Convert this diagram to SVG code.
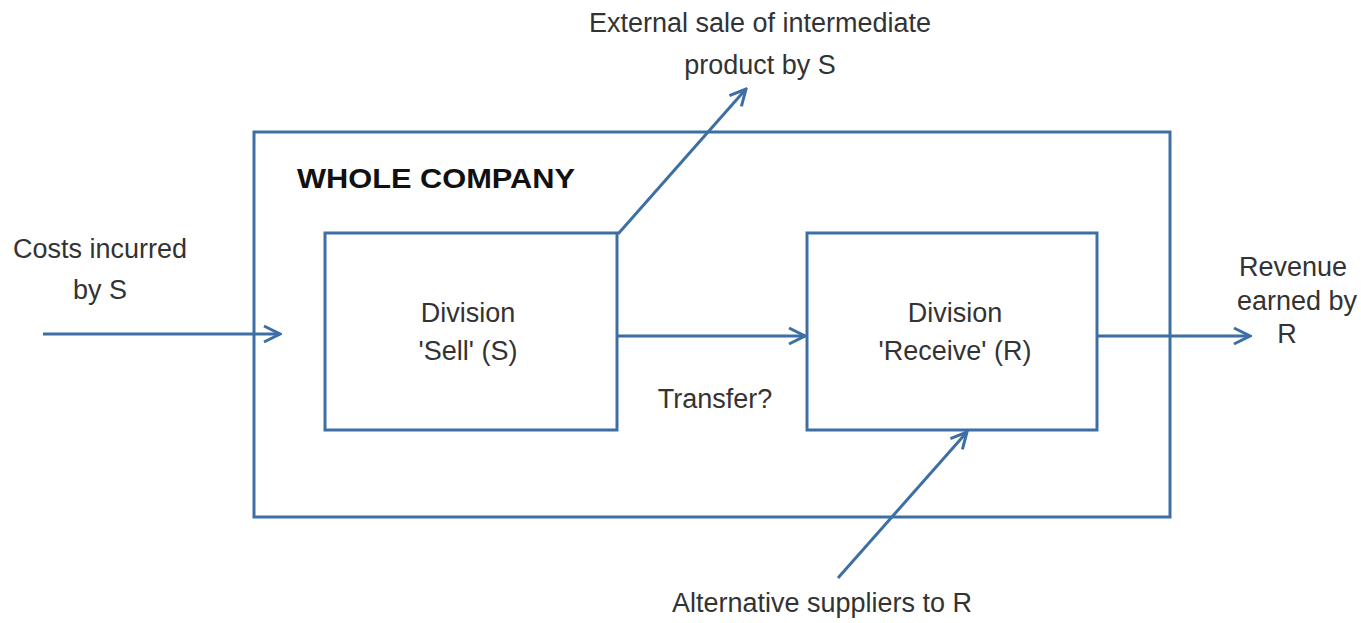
<svg xmlns="http://www.w3.org/2000/svg" width="1361" height="623" viewBox="0 0 1361 623">
  <style>
    .box { fill: none; stroke: #3d6fa5; stroke-width: 3; }
    .link { fill: none; stroke: #3d6fa5; stroke-width: 3; }
    .lbl { font-family: "Liberation Sans", Arial, sans-serif; font-size: 27px; fill: #333333; text-anchor: middle; }
    .title { font-family: "Liberation Sans", Arial, sans-serif; font-size: 27px; font-weight: bold; fill: #111111; }
  </style>
  <defs>
    <marker id="arrow" viewBox="0 0 20 20" refX="18" refY="10" markerWidth="20" markerHeight="20" markerUnits="userSpaceOnUse" orient="auto">
      <path d="M2,2 L18,10 L2,18" fill="none" stroke="#3d6fa5" stroke-width="3"/>
    </marker>
  </defs>
  <rect width="1361" height="623" fill="#ffffff"/>

  <g id="whole-company">
    <rect class="box" x="254" y="132" width="916" height="385"/>
    <text class="title" x="297" y="188" textLength="278" lengthAdjust="spacingAndGlyphs">WHOLE COMPANY</text>
  </g>

  <g id="division-sell">
    <rect class="box" x="325" y="233" width="292" height="197"/>
    <text class="lbl" x="468" y="322">Division</text>
    <text class="lbl" x="468" y="360">'Sell' (S)</text>
  </g>

  <g id="division-receive">
    <rect class="box" x="807" y="233" width="290" height="197"/>
    <text class="lbl" x="955" y="322">Division</text>
    <text class="lbl" x="955" y="360">'Receive' (R)</text>
  </g>

  <g id="costs">
    <text class="lbl" x="100" y="258">Costs incurred</text>
    <text class="lbl" x="100" y="299">by S</text>
  </g>

  <g id="external-sale">
    <text class="lbl" x="760" y="32">External sale of intermediate</text>
    <text class="lbl" x="760" y="74">product by S</text>
  </g>

  <g id="revenue">
    <text class="lbl" x="1293" y="276">Revenue</text>
    <text class="lbl" x="1297" y="310">earned by</text>
    <text class="lbl" x="1287" y="343">R</text>
  </g>

  <g id="alternative">
    <text class="lbl" x="822" y="612">Alternative suppliers to R</text>
  </g>

  <g id="transfer-label">
    <text class="lbl" x="715" y="408">Transfer?</text>
  </g>

  <g id="connectors">
    <line class="link" x1="43" y1="334" x2="280" y2="334" marker-end="url(#arrow)"/>
    <line class="link" x1="617" y1="336" x2="805" y2="336" marker-end="url(#arrow)"/>
    <line class="link" x1="1097" y1="336" x2="1250" y2="336" marker-end="url(#arrow)"/>
    <line class="link" x1="618" y1="234" x2="746" y2="89" marker-end="url(#arrow)"/>
    <line class="link" x1="838" y1="578" x2="967" y2="432" marker-end="url(#arrow)"/>
  </g>
</svg>
